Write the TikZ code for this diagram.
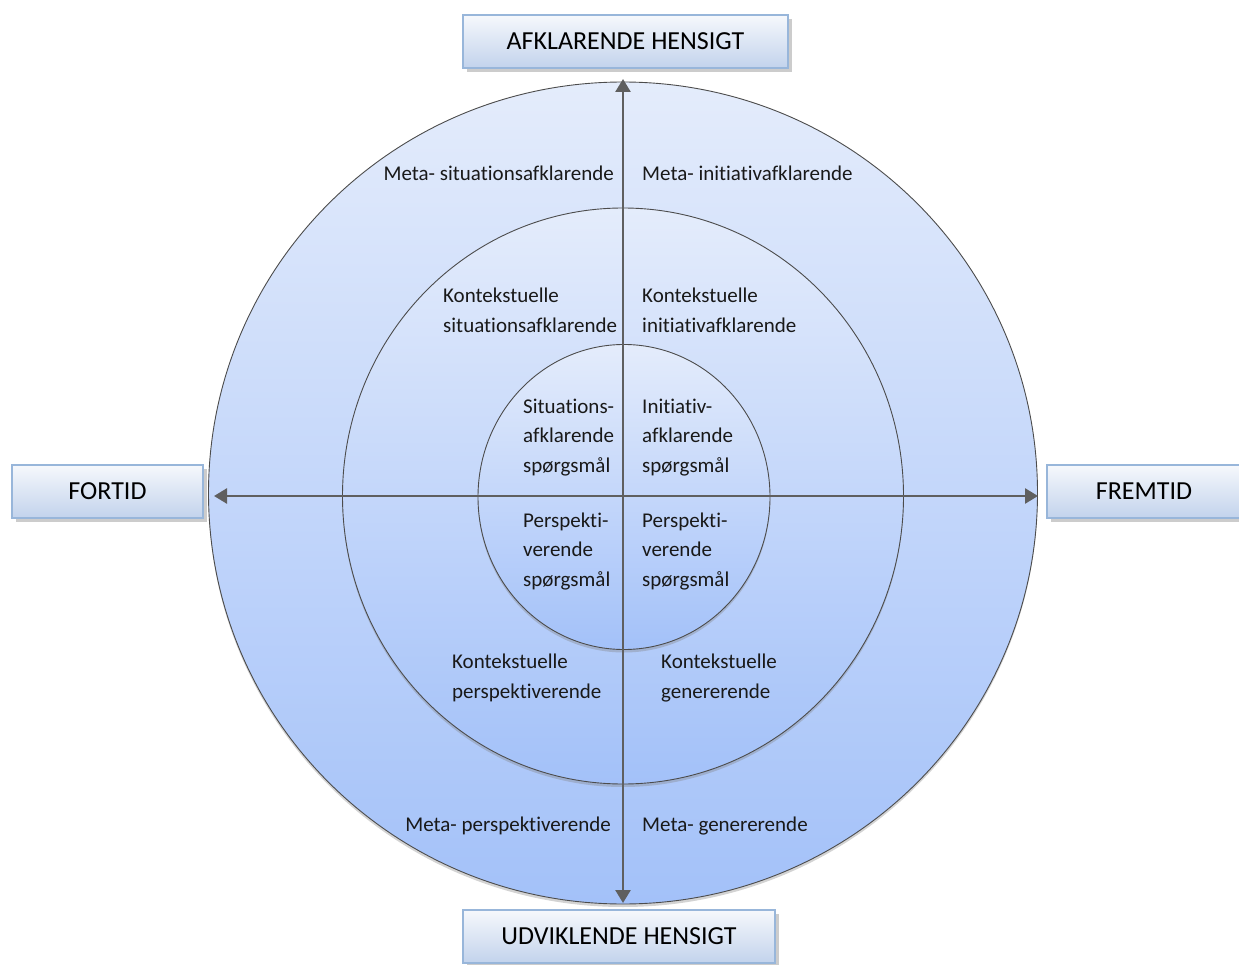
\documentclass[tikz,border=0pt]{standalone}
\usepackage{fontspec}
\setmainfont{Carlito}[Ligatures=NoCommon]
\usetikzlibrary{arrows.meta,shadows,shapes.geometric}

\definecolor{ringtop}{HTML}{E4ECFB}
\definecolor{ringbot}{HTML}{A3C1F9}
\definecolor{boxtop}{HTML}{F6F8FC}
\definecolor{boxbot}{HTML}{C2D3EC}
\definecolor{boxline}{HTML}{98B6DA}
\definecolor{axisgray}{HTML}{5F5F5F}

\tikzset{
  ring/.style={ellipse, draw=black!70, line width=0.9pt, inner sep=0pt,
    top color=ringtop, bottom color=ringbot,
    drop shadow={shadow xshift=0pt, shadow yshift=-3pt, opacity=0.35}},
  headbox/.style={rectangle, draw=boxline, line width=1.5pt, inner sep=0pt,
    top color=boxtop, bottom color=boxbot, minimum height=53pt,
    font=\fontsize{26}{30}\selectfont,
    drop shadow={shadow xshift=4pt, shadow yshift=-4pt, fill=black!40, opacity=0.5}},
  axis/.style={draw=axisgray, line width=2.6pt,
    {Triangle[length=13pt,width=15pt]}-{Triangle[length=13pt,width=15pt]}},
  lbl/.style={font=\fontsize{21}{29.4}\selectfont, inner sep=0pt, text=black!90},
  % multi-line labels are placed by the baseline of their last line
  lblL/.style={lbl, align=left, anchor=base west},
  lblR/.style={lbl, align=right, anchor=base east},
}

\begin{document}
\begin{tikzpicture}[x=1pt,y=-1pt]
\useasboundingbox (0,0) rectangle (1239,965);

% three nested rings
\node[ring, minimum width=829pt, minimum height=822pt] (outer) at (623,493) {};
\node[ring, minimum width=561pt, minimum height=576pt] (middle) at (623,496) {};
\node[ring, minimum width=292pt, minimum height=305pt] (inner) at (624,497) {};

% axes
\coordinate (up)    at (623,79);
\coordinate (down)  at (623,903);
\coordinate (west)  at (214,496);
\coordinate (east)  at (1038,496);
\draw[axis] (down) -- (up);
\draw[axis] (west) -- (east);

% outer ring
\node[lblR] (m1) at (614,181) {Meta- situationsafklarende};
\node[lblL] (m2) at (642,181) {Meta- initiativafklarende};
\node[lblR] (m3) at (611,831) {Meta- perspektiverende};
\node[lblL] (m4) at (642,831) {Meta- genererende};

% middle ring
\node[lblL] (k1) at (443,332.4) {Kontekstuelle\\situationsafklarende};
\node[lblL] (k2) at (642,332.4) {Kontekstuelle\\initiativafklarende};
\node[lblL] (k3) at (452,698) {Kontekstuelle\\perspektiverende};
\node[lblL] (k4) at (661,698) {Kontekstuelle\\genererende};

% inner ring
\node[lblL] (s1) at (523,472) {Situations-\\afklarende\\spørgsmål};
\node[lblL] (s2) at (642,472) {Initiativ-\\afklarende\\spørgsmål};
\node[lblL] (s3) at (523,586) {Perspekti-\\verende\\spørgsmål};
\node[lblL] (s4) at (642,586) {Perspekti-\\verende\\spørgsmål};

% direction boxes
\node[headbox, minimum width=325pt] (b1) at (625.5,41.5) {AFKLARENDE HENSIGT};
\node[headbox, minimum width=312pt] (b2) at (619,936.5) {UDVIKLENDE HENSIGT};
\node[headbox, minimum width=191pt] (b3) at (107.5,491.5) {FORTID};
\node[headbox, minimum width=194pt] (b4) at (1144,491.5) {FREMTID};
\end{tikzpicture}
\end{document}
